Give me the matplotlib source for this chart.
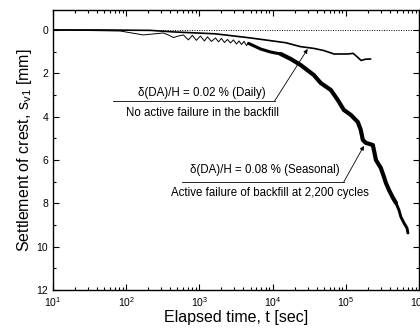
import numpy as np
import matplotlib
matplotlib.use('Agg')
import matplotlib.pyplot as plt
from matplotlib.ticker import LogLocator, MultipleLocator

plt.rcParams['font.family'] = ['Liberation Sans', 'DejaVu Sans']
plt.rcParams['mathtext.fontset'] = 'custom'
plt.rcParams['mathtext.rm'] = 'Liberation Sans'
plt.rcParams['mathtext.it'] = 'Liberation Sans:italic'

# daily case (thin line)
daily_t = [10, 44, 214, 436, 1660, 5010, 15100, 24000, 36300, 50100, 69200,
           107000, 126000, 145000, 162000, 186000, 219000]
daily_s = [0, 0, 0.02, 0.09, 0.18, 0.37, 0.59, 0.77, 0.85, 0.95, 1.11,
           1.11, 1.08, 1.26, 1.41, 1.35, 1.34]

# seasonal case, early part where single cycles are still visible
seas_zig_t = [10, 83, 171, 321, 376, 441, 516, 604, 707, 802, 910, 1030, 1170,
              1290, 1460, 1660, 1820, 2000, 2200, 2420, 2660, 2920, 3210, 3480,
              3760, 4070, 4400, 4690]
seas_zig_s = [0, 0.05, 0.23, 0.14, 0.23, 0.35, 0.28, 0.23, 0.46, 0.25, 0.48, 0.28,
              0.51, 0.32, 0.53, 0.37, 0.55, 0.39, 0.58, 0.44, 0.60, 0.46, 0.65,
              0.51, 0.67, 0.53, 0.72, 0.60]

# seasonal case, later part (cycles merge into a thick band)
seas_t = [4690, 6860, 9400, 12900, 17700, 24200, 36500, 45500, 62400, 77600,
          94000, 117000, 146000, 160000, 171000, 188000, 234000, 242000, 258000,
          301000, 332000, 353000, 388000, 441000, 484000, 532000, 566000,
          624000, 685000, 706000]
seas_s = [0.62, 0.88, 1.02, 1.11, 1.34, 1.62, 2.08, 2.45, 2.77, 3.23,
          3.69, 3.92, 4.25, 4.61, 5.08, 5.21, 5.31, 5.54, 6.00,
          6.37, 6.78, 7.06, 7.38, 7.75, 7.98, 8.31, 8.63,
          8.91, 9.14, 9.37]

fig = plt.figure(figsize=(4.2, 3.31), dpi=100)
ax = fig.add_axes([53/420, 1-290/331, 366/420, 280/331])

ax.axhline(0, color='k', ls=(0, (1, 1.5)), lw=0.7)

ax.plot(daily_t, daily_s, 'k', lw=1.2, solid_capstyle='round')
ax.plot(seas_zig_t, seas_zig_s, 'k', lw=0.7)
kw = dict(color='k', solid_capstyle='round', solid_joinstyle='round')
ax.plot(seas_t[:4], seas_s[:4], lw=2.2, **kw)
ax.plot(seas_t[3:25], seas_s[3:25], lw=3.0, **kw)
ax.plot(seas_t[24:], seas_s[24:], lw=2.1, **kw)

# call-outs
fs = 8.3
arrow = dict(arrowstyle='-|>', lw=0.6, color='k', mutation_scale=6, shrinkA=0, shrinkB=0)
ax.plot([66.4, 10640], [3.28, 3.28], 'k', lw=0.6)
ax.annotate('', xy=(30100, 0.88), xytext=(10640, 3.28), arrowprops=arrow)
ax.text(1070, 2.9, 'δ(DA)/H = 0.02 % (Daily)', ha='center', va='center', fontsize=fs)
ax.text(1100, 3.83, 'No active failure in the backfill', ha='center', va='center', fontsize=fs)

ax.plot([585, 94000], [7.01, 7.01], 'k', lw=0.6)
ax.annotate('', xy=(176600, 5.35), xytext=(94000, 7.01), arrowprops=arrow)
ax.text(7760, 6.46, 'δ(DA)/H = 0.08 % (Seasonal)', ha='center', va='center', fontsize=fs)
ax.text(9330, 7.52, 'Active failure of backfill at 2,200 cycles', ha='center', va='center', fontsize=fs)

ax.set_xscale('log')
ax.set_xlim(10, 1e6)
ax.set_ylim(12, -0.92)
ax.xaxis.set_major_locator(LogLocator(base=10, numticks=10))
ax.xaxis.set_minor_locator(LogLocator(base=10, subs=np.arange(2, 10), numticks=10))
ax.yaxis.set_major_locator(MultipleLocator(2))
ax.yaxis.set_minor_locator(MultipleLocator(1))
ax.tick_params(which='both', direction='in', top=True, right=True, labelsize=7.5, width=0.8)
ax.tick_params(which='major', length=4)
ax.tick_params(which='minor', length=2.5)
for sp in ax.spines.values():
    sp.set_linewidth(1.0)

ax.set_xlabel('Elapsed time, t [sec]', fontsize=11.5, labelpad=1)
ax.set_ylabel(r'Settlement of crest, s$_{\rm v1}$ [mm]', fontsize=11.5, labelpad=2)

fig.savefig('out.png', dpi=100)
